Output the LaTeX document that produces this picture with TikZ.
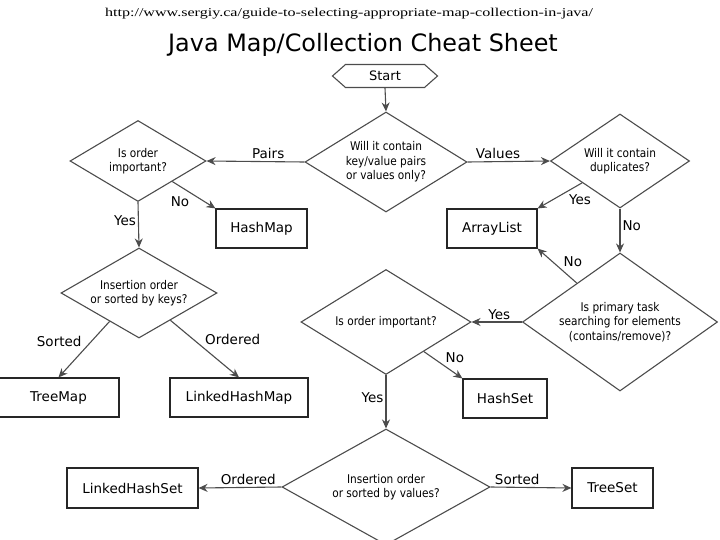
\documentclass[tikz,border=0pt]{standalone}
\usepackage{fontspec}
\setmainfont{DejaVu Sans}
\newfontfamily\narrowfont[FakeStretch=0.88]{DejaVu Sans}
\newfontfamily\urlfont[FakeStretch=1.34]{Liberation Serif}
\usetikzlibrary{shapes.geometric}
\usetikzlibrary{shapes.symbols}
\usetikzlibrary{arrows.meta}
\usetikzlibrary{quotes}

\definecolor{linegray}{gray}{0.3}

\tikzset{
  question/.style={diamond, draw=linegray, line width=1.1pt, align=center, inner sep=0pt,
    font=\narrowfont\fontsize{12}{14.5}\selectfont},
  result/.style={rectangle, draw=black!85, line width=1.1pt, minimum height=39pt,
    font=\fontsize{13.5}{16}\selectfont},
  flow/.style={->, draw=linegray, line width=1.1pt},
}

\begin{document}
\begin{tikzpicture}[x=1pt, y=-1pt, >={Stealth[length=9pt,width=8pt]},
  every edge quotes/.style={font=\fontsize{13.5}{16}\selectfont, inner sep=2pt}]

    \useasboundingbox (0,0) rectangle (720,540);

    \node[anchor=base, font=\urlfont\fontsize{12}{14}\selectfont] (url) at (349,17)
      {http://www.sergiy.ca/guide-to-selecting-appropriate-map-collection-in-java/};
    \node[anchor=base, font=\fontsize{23.9}{28}\selectfont] (title) at (363,52)
      {Java Map/Collection Cheat Sheet};

    \node[signal, signal to=west and east, signal pointer angle=83, draw=linegray,
      line width=1.1pt, minimum width=105pt, minimum height=23pt, inner sep=0pt,
      font=\fontsize{13}{16}\selectfont] (start) at (385,76) {Start};

    \node[question, shape aspect=1.62, minimum width=162pt, minimum height=100pt] (d1) at (386,162)
      {Will it contain\\key/value pairs\\or values only?};
    \node[question, shape aspect=1.68, minimum width=136pt, minimum height=81pt]  (d2) at (138,161)
      {Is order\\important?};
    \node[question, shape aspect=1.48, minimum width=139pt, minimum height=94pt]  (d3) at (620,161)
      {Will it contain\\duplicates?};
    \node[question, shape aspect=1.73, minimum width=156pt, minimum height=90pt]  (d4) at (139,293)
      {Insertion order\\or sorted by keys?};
    \node[question, shape aspect=1.41, minimum width=195pt, minimum height=138pt] (d5) at (620,322)
      {Is primary task\\searching for elements\\(contains/remove)?};
    \node[question, shape aspect=1.62, minimum width=170pt, minimum height=105pt] (d6) at (386,322)
      {Is order important?};
    \node[question, shape aspect=1.79, minimum width=208pt, minimum height=116pt] (d7) at (386,487)
      {Insertion order\\or sorted by values?};

    \node[result, minimum width=91pt]  (hashmap)   at (261.5,228.5) {HashMap};
    \node[result, minimum width=90pt]  (arraylist) at (492,228.5)   {ArrayList};
    \node[result, minimum width=121pt] (treemap)   at (58.5,397.5)  {TreeMap};
    \node[result, minimum width=138pt] (lhm)       at (239,397.5)   {LinkedHashMap};
    \node[result, minimum width=84pt]  (hashset)   at (505,398.5)   {HashSet};
    \node[result, minimum width=131pt, minimum height=40pt] (lhs)     at (132.5,488) {LinkedHashSet};
    \node[result, minimum width=81pt,  minimum height=40pt] (treeset) at (612.5,488) {TreeSet};


    \draw (start.south) edge[flow] (d1.north);
    \draw (d1.west) edge["Pairs"{above,pos=0.37}, flow] (d2.east);
    \draw (d1.east) edge["Values"{above,pos=0.37}, flow] (d3.west);
    \draw (d2.south east) edge["No"{below left,pos=0.45}, flow] (hashmap.north west);
    \draw (d2.south) edge["Yes"{left,pos=0.4}, flow] (d4.north);
    \draw (d3.-150) edge["Yes"{below right,pos=0.35}, flow] (arraylist.north east);
    \draw (d3.south) edge["No"{right,pos=0.38}, flow] (d5.north);
    \draw (d5.138) edge["No"{above right,pos=0.4}, flow] (arraylist.south east);
    \draw (d5.west) edge["Yes"{above,pos=0.45}, flow] (d6.east);
    \draw (d6.-38) edge["No"{above right,pos=0.5}, flow] (hashset.north west);
    \draw (d6.south) edge["Yes"{left,pos=0.43}, flow] (d7.north);
    \draw (d4.-136) edge["Sorted"{above left,pos=0.5}, flow] (treemap.north);
    \draw (d4.-41) edge["Ordered"{above right,pos=0.47}, flow] (lhm.north);
    \draw (d7.west) edge["Ordered"{above,pos=0.4}, flow] (lhs.east);
    \draw (d7.east) edge["Sorted"{above,pos=0.33}, flow] (treeset.west);
  \end{tikzpicture}
\end{document}
